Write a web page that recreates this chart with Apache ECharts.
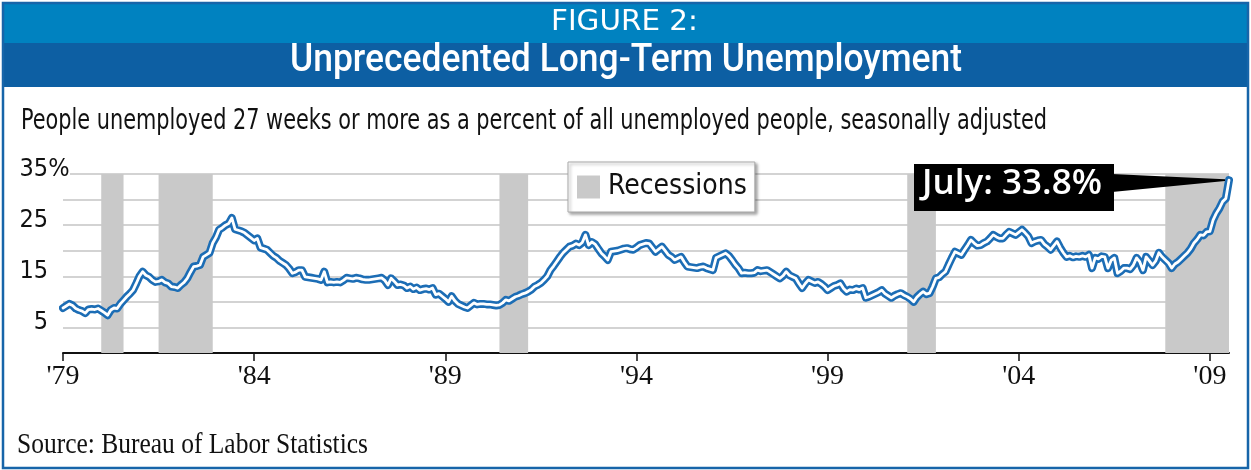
<!DOCTYPE html>
<html><head><meta charset="utf-8">
<script src="https://cdn.jsdelivr.net/npm/echarts@6/dist/echarts.min.js"></script>
<style>html,body{margin:0;padding:0;background:#fff}#c{width:1251px;height:470px}</style>
</head><body><div id="c"></div><script>
// Percent of unemployed out of work 27 weeks or more, monthly
const v1979 = [8.8, 9.2, 9.6, 9.3, 8.7, 8.4, 8.2, 7.8, 8.5, 8.6, 8.5, 8.7];
const v1980 = [8.3, 7.9, 7.4, 8.4, 8.8, 8.7, 9.6, 10.3, 11.0, 11.6, 12.3, 13.6];
const v1981 = [15.0, 15.9, 15.2, 14.9, 14.3, 13.9, 14.0, 14.3, 13.8, 13.6, 13.0, 12.9];
const v1982 = [12.7, 13.3, 13.8, 14.6, 15.8, 16.9, 17.0, 17.2, 18.8, 19.2, 19.6, 21.5];
const v1983 = [22.6, 24.1, 24.5, 25.0, 25.3, 26.4, 24.2, 24.0, 23.8, 23.5, 23.0, 22.5];
const v1984 = [22.0, 22.4, 20.6, 20.4, 20.2, 19.6, 19.0, 18.6, 18.0, 17.6, 17.2, 16.5];
const v1985 = [15.6, 15.8, 16.2, 16.2, 14.9, 14.8, 14.7, 14.6, 14.5, 14.3, 15.9, 13.8];
const v1986 = [13.9, 13.8, 13.9, 13.8, 14.2, 14.7, 14.6, 14.5, 14.7, 14.6, 14.4, 14.3];
const v1987 = [14.3, 14.4, 14.5, 14.6, 14.7, 14.2, 13.3, 14.6, 14.0, 13.3, 13.4, 13.2];
const v1988 = [12.7, 13.0, 12.5, 12.8, 12.3, 12.5, 12.6, 12.4, 12.7, 11.4, 11.6, 11.1];
const v1989 = [10.6, 10.0, 11.1, 10.2, 9.6, 9.3, 9.0, 8.8, 9.3, 9.8, 9.5, 9.6];
const v1990 = [9.6, 9.5, 9.5, 9.4, 9.3, 9.4, 9.8, 10.4, 10.2, 10.6, 11.0, 11.2];
const v1991 = [11.5, 11.7, 12.0, 12.4, 13.0, 13.3, 13.7, 14.3, 15.0, 16.2, 17.0, 17.9];
const v1992 = [18.8, 19.6, 20.2, 20.8, 21.0, 21.4, 21.1, 21.6, 23.1, 21.1, 21.7, 21.3];
const v1993 = [20.4, 19.5, 18.9, 18.2, 19.8, 19.9, 20.0, 20.2, 20.4, 20.5, 20.3, 20.2];
const v1994 = [20.6, 21.1, 21.3, 21.5, 21.4, 20.6, 19.8, 20.3, 20.8, 20.0, 19.2, 18.8];
const v1995 = [18.2, 18.5, 18.8, 17.8, 16.9, 16.8, 16.7, 16.6, 16.8, 16.9, 16.6, 16.4];
const v1996 = [16.2, 18.6, 18.9, 19.2, 19.5, 19.0, 18.2, 17.3, 16.6, 15.6, 15.7, 15.6];
const v1997 = [15.6, 15.7, 16.2, 16.0, 16.1, 16.2, 15.8, 15.4, 15.0, 14.6, 15.1, 15.9];
const v1998 = [15.2, 14.9, 14.6, 13.6, 12.7, 13.6, 14.3, 14.0, 13.7, 13.9, 13.5, 13.0];
const v1999 = [12.3, 12.7, 13.1, 13.3, 13.6, 12.6, 12.0, 12.4, 12.3, 12.6, 12.4, 12.7];
const v2000 = [10.8, 11.0, 11.3, 11.6, 11.9, 12.3, 11.6, 11.2, 10.8, 11.2, 11.5, 11.7];
const v2001 = [11.3, 11.0, 10.6, 10.0, 10.9, 11.5, 12.0, 11.5, 11.7, 13.0, 14.6, 14.8];
const v2002 = [15.4, 15.9, 17.3, 18.6, 19.8, 19.5, 19.2, 20.2, 21.1, 22.1, 21.5, 21.0];
const v2003 = [21.1, 21.5, 21.8, 22.4, 23.1, 22.7, 22.4, 22.4, 23.1, 23.7, 23.4, 23.1];
const v2004 = [23.6, 24.1, 23.5, 22.8, 21.5, 21.8, 22.0, 22.1, 21.3, 20.8, 20.2, 21.0];
const v2005 = [21.8, 20.6, 19.6, 18.8, 19.0, 18.7, 18.9, 18.8, 19.0, 18.8, 19.2, 16.6];
const v2006 = [18.6, 18.4, 18.9, 18.8, 16.6, 18.1, 18.6, 15.6, 16.0, 16.6, 16.6, 16.4];
const v2007 = [17.2, 18.6, 17.8, 16.2, 18.8, 18.0, 17.2, 18.0, 19.6, 18.8, 18.2, 17.6];
const v2008 = [16.6, 17.4, 17.8, 18.4, 19.0, 19.6, 20.4, 21.5, 22.2, 23.1, 23.0, 23.7];
const v2009 = [23.8, 26.0, 27.3, 28.3, 29.6, 30.2, 33.8];

// Recessions (first and last month of each shaded band)
const recessionStart = ['1980-01', '1981-07', '1990-06', '2001-02', '2007-11'];
const recessionEnd   = ['1980-08', '1982-12', '1991-03', '2001-11', '2009-07'];

// Tick labels
const xTickLabels = ["'79", "'84", "'89", "'94", "'99", "'04", "'09"];
const yTickLabels = ['5', '15', '25', '35'];
const yTickValues = [5, 15, 25, 35];

const annotationText = 'July: 33.8%';

// ---- build tables for the library ----
const yearly = [v1979,v1980,v1981,v1982,v1983,v1984,v1985,v1986,v1987,v1988,v1989,v1990,
  v1991,v1992,v1993,v1994,v1995,v1996,v1997,v1998,v1999,v2000,v2001,v2002,v2003,v2004,
  v2005,v2006,v2007,v2008,v2009];
const months = [];
const values = [];
yearly.forEach((arr, yi) => {
  arr.forEach((v, mi) => {
    months.push((1979 + yi) + '-' + String(mi + 1).padStart(2, '0'));
    values.push(v);
  });
});

const NARROW = "'Liberation Sans Narrow','DejaVu Sans Condensed',sans-serif";
const SERIF = "'Liberation Serif','DejaVu Serif',serif";
const BLUE = '#1c6db5';
const GRAY = '#c9c9c9';

const chart = echarts.init(document.getElementById('c'), null, {renderer: 'canvas'});

chart.setOption({
  animation: false,
  backgroundColor: '#fff',
  grid: {left: 63, right: 22, top: 174, bottom: 117, containLabel: false},
  legend: {
    data: ['Recessions'], selectedMode: false,
    left: 568, top: 162, icon: 'rect', itemWidth: 23, itemHeight: 23,
    padding: [11, 8, 11, 9],
    backgroundColor: '#fff', borderColor: '#a9a9a9', borderWidth: 1,
    shadowBlur: 3, shadowColor: 'rgba(0,0,0,0.35)', shadowOffsetX: 2, shadowOffsetY: 2,
    textStyle: {fontSize: 28, fontFamily: NARROW, color: '#111', padding: [0, 0, 0, 3]}
  },
  xAxis: {
    type: 'category', data: months, boundaryGap: false,
    axisLine: {lineStyle: {color: '#111', width: 2}},
    axisTick: {interval: (i) => i % 60 === 0, length: 8, lineStyle: {color: '#111', width: 1.5}},
    axisLabel: {
      interval: (i) => i % 60 === 0,
      formatter: (v, i) => xTickLabels[i / 60] || '',
      fontFamily: SERIF, fontSize: 28, color: '#111', margin: 10
    },
    splitLine: {show: false}
  },
  yAxis: {
    type: 'value', min: 0, max: 35, interval: 5,
    axisLine: {show: false}, axisTick: {show: false},
    splitLine: {lineStyle: {color: '#c4c4c4', width: 1.6}},
    axisLabel: {
      margin: -7, align: 'right', verticalAlign: 'middle', padding: [0, 0, 10, 0],
      formatter: (v) => {
        const k = yTickValues.indexOf(v);
        if (k < 0) return '';
        return v === 35 ? '{n|' + yTickLabels[k] + '}{p|%}' : '{n|' + yTickLabels[k] + '}{s| }';
      },
      rich: {
        n: {fontSize: 25, fontFamily: NARROW, color: '#111'},
        p: {fontSize: 25, fontFamily: NARROW, color: '#111', width: 22, align: 'left', backgroundColor: '#fff'},
        s: {fontSize: 25, fontFamily: NARROW, width: 22}
      }
    }
  },
  series: [
    {
      name: 'Recessions', type: 'line', data: [], z: 1,
      itemStyle: {color: GRAY}, lineStyle: {color: GRAY},
      markArea: {
        silent: true,
        itemStyle: {color: GRAY, opacity: 1},
        data: recessionStart.map((s, i) => [{xAxis: s}, {xAxis: recessionEnd[i]}])
      }
    },
    {
      name: 'Long-term unemployed share', type: 'line', data: values, z: 3,
      showSymbol: false, silent: true,
      lineStyle: {color: BLUE, width: 8, cap: 'round', join: 'round'}
    },
    {
      name: 'Long-term unemployed share (inner)', type: 'line', data: values, z: 4,
      showSymbol: false, silent: true,
      lineStyle: {color: '#ffffff', width: 2.8, cap: 'round', join: 'round'}
    }
  ]
});

// ---- decorations and text ----
const mctx = document.createElement('canvas').getContext('2d');
function fitText(id, text, left, cy, size, family, weight, target, color) {
  mctx.font = 'normal ' + weight + ' ' + size + 'px ' + family;
  const s = target / mctx.measureText(text).width;
  return {type: 'text', id: id, x: left, y: cy, scaleX: s, silent: true, z: 20,
    style: {text: text, fontSize: size, fontFamily: family, fontWeight: weight, fill: color,
      align: 'left', verticalAlign: 'middle'}};
}

const lastIdx = values.length - 1;
const tip = chart.convertToPixel({xAxisIndex: 0, yAxisIndex: 0}, [months[lastIdx], values[lastIdx]]);

chart.setOption({
  graphic: [
    {type: 'rect', id: 'bar1', z: 10, silent: true, shape: {x: 2, y: 2, width: 1247, height: 41}, style: {fill: '#0082c0'}},
    {type: 'rect', id: 'bar2', z: 10, silent: true, shape: {x: 2, y: 43, width: 1247, height: 44}, style: {fill: '#0d5fa3'}},
    {type: 'rect', id: 'frame', z: 10, silent: true, shape: {x: 3, y: 3, width: 1245, height: 465}, style: {fill: 'none', stroke: '#1765a9', lineWidth: 2.5}},
    fitText('t1', 'FIGURE 2:', 551, 23, 28, NARROW, 'normal', 147, '#fff'),
    fitText('t2', 'Unprecedented Long-Term Unemployment', 290, 61.5, 38, "Roboto,'Liberation Sans',sans-serif", 500, 672, '#fff'),
    fitText('t3', 'People unemployed 27 weeks or more as a percent of all unemployed people, seasonally adjusted', 21, 122, 28, NARROW, 'normal', 1026, '#111'),
    fitText('t4', 'Source: Bureau of Labor Statistics', 17, 445, 30, SERIF, 'normal', 351, '#111'),
    {type: 'polygon', id: 'pointer', z: 15, silent: true,
      shape: {points: [[1112, 174], [tip[0] - 4, tip[1] - 0.8], [tip[0] - 4, tip[1] + 0.8], [1112, 192]]},
      style: {fill: '#000'}},
    {type: 'rect', id: 'abox', z: 15, silent: true, shape: {x: 914, y: 164, width: 200, height: 47}, style: {fill: '#000'}},
    fitText('t5', annotationText, 922, 184, 35, "'Open Sans',sans-serif", 600, 180, '#fff')
  ]
});
</script></body></html>
